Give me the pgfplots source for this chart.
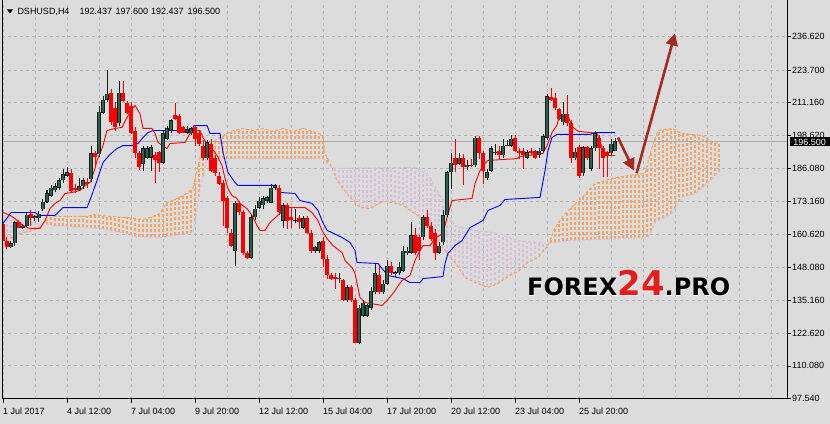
\documentclass[border=0pt]{standalone}
\usepackage{pgfplots}
\usepackage{pgfplotstable}
\pgfplotsset{compat=1.18}
\usetikzlibrary{arrows.meta}
\usepackage{fontspec}
\setmainfont{Liberation Sans}
\newfontfamily\wmfont{DejaVu Sans}
\newfontfamily\wmhalo{DejaVu Sans}[BoldFeatures={FakeBold=2.5}]

\definecolor{bg}{HTML}{DCDCDC}
\definecolor{gridc}{HTML}{B4B4B4}
\definecolor{upbody}{HTML}{2F5F4F}
\definecolor{upwick}{HTML}{10201A}
\definecolor{dnred}{HTML}{FF0000}
\definecolor{sandy}{HTML}{F4A460}
\definecolor{thist}{HTML}{D8BFD8}
\definecolor{arrowc}{HTML}{A52A22}
\definecolor{bidc}{HTML}{A8A8A8}
\definecolor{wmred}{HTML}{E41E1E}

% H4 candles closing higher: bar, open, high, low, close
\pgfplotstableread{
i o h l c
2 155.6 157.9 155.2 157.1
3 157.1 165.9 156.3 165.2
5 163.2 164.4 162.5 164.0
6 164.0 169.0 163.6 168.2
8 166.7 167.9 165.9 167.5
9 166.7 169.4 165.5 168.6
10 170.2 174.0 169.4 173.2
11 173.2 177.5 172.5 176.3
12 175.5 179.4 174.8 178.6
13 177.5 180.5 176.7 179.0
14 178.6 182.1 177.8 181.3
15 181.3 185.9 180.5 183.6
16 183.2 186.3 182.5 184.4
19 177.5 182.1 177.1 179.0
20 179.0 182.1 178.2 181.3
22 181.7 194.7 180.9 191.7
24 191.3 210.1 190.5 207.8
25 207.4 213.9 206.7 212.4
26 212.4 223.9 211.6 214.7
29 203.2 219.7 202.4 215.1
35 187.8 194.7 185.1 193.6
36 190.1 194.4 189.7 193.6
37 190.1 195.1 185.1 194.0
40 188.2 200.5 187.8 199.4
41 197.4 202.4 196.7 201.3
42 200.5 205.1 199.7 204.4
46 199.7 202.4 199.0 200.9
47 199.4 201.7 198.6 201.3
51 189.8 196.7 189.0 195.9
58 154.4 173.6 148.6 172.8
62 151.7 167.9 151.0 167.1
63 167.1 171.7 166.3 170.5
64 170.9 174.8 170.2 173.6
65 171.7 175.5 170.5 174.4
66 173.6 175.5 172.8 174.8
67 172.8 180.1 172.5 178.6
68 178.6 180.1 177.5 179.4
70 165.9 172.8 163.2 171.7
73 165.9 170.5 164.8 166.3
75 163.2 167.5 162.5 166.7
78 154.4 156.3 153.3 155.6
79 154.4 158.2 153.6 157.5
84 143.3 145.6 142.1 144.0
86 135.2 141.0 134.8 140.2
89 119.0 133.3 118.3 132.5
90 129.4 135.2 128.7 134.4
91 129.4 134.0 128.7 133.3
92 132.5 140.2 131.7 139.0
93 138.3 149.4 137.5 145.6
95 138.3 142.9 137.5 141.7
96 141.7 150.6 141.0 148.6
98 145.2 146.7 144.4 146.0
99 145.6 149.8 144.8 147.9
100 146.7 156.3 146.0 154.4
101 153.3 155.6 152.5 154.4
102 153.6 165.2 152.9 160.2
105 159.4 168.2 158.6 167.1
109 153.6 157.5 152.9 156.3
110 157.5 169.8 156.7 167.9
111 167.9 185.1 167.1 184.4
112 184.4 191.7 178.2 188.2
114 187.8 191.7 187.1 190.1
116 186.3 189.0 185.5 187.4
118 187.1 198.2 186.3 197.8
121 182.1 185.9 181.3 184.4
122 185.1 194.7 184.4 193.6
123 191.7 195.5 190.9 192.4
125 190.9 197.4 190.1 194.7
126 194.7 196.7 194.4 195.1
127 194.7 198.6 194.0 197.4
131 190.1 193.2 189.7 192.1
134 190.9 193.6 190.1 192.8
135 192.8 199.0 192.1 198.2
136 197.8 214.7 196.7 213.6
140 203.6 211.3 202.8 207.0
143 189.8 193.6 189.0 192.4
145 184.0 194.7 183.2 194.0
147 185.9 194.4 185.1 193.6
148 193.6 200.5 192.8 199.4
152 191.7 197.4 190.9 195.5
153 192.437 197.6 192.437 196.5
}\upc

% H4 candles closing lower
\pgfplotstableread{
i o h l c
0 164.4 165.5 155.9 157.9
1 158.2 159.4 154.8 155.6
4 165.5 166.3 162.9 163.2
7 168.6 169.8 164.0 166.7
17 184.0 185.9 176.7 177.1
18 178.6 179.8 176.3 177.5
21 180.9 182.1 178.6 180.1
23 191.7 192.8 186.7 190.5
27 215.1 216.6 202.8 203.6
28 209.3 211.3 200.5 201.7
30 215.1 219.7 211.6 212.0
31 210.9 212.0 207.0 207.4
32 210.1 211.3 199.0 199.7
33 200.5 201.7 190.1 191.7
34 191.7 192.8 185.5 186.3
38 190.9 192.1 180.5 189.0
39 192.1 192.8 184.4 188.2
43 206.3 210.9 204.4 205.1
44 205.9 207.0 199.0 199.7
45 201.7 202.4 199.4 199.7
48 201.7 202.8 194.7 197.4
49 199.4 200.5 194.7 195.5
50 194.7 196.7 189.0 189.8
52 195.5 197.4 184.4 185.1
53 190.1 190.9 183.2 184.0
54 183.2 184.4 179.4 180.1
55 180.5 181.3 164.0 173.6
56 174.4 175.5 161.3 163.2
57 161.3 162.5 155.6 156.3
59 172.8 173.6 168.2 169.0
60 169.0 169.8 152.5 153.6
61 153.6 154.4 151.0 151.7
69 178.6 179.4 168.2 169.0
71 171.7 172.5 162.5 165.9
72 167.1 170.9 162.9 166.3
74 166.7 167.9 162.5 165.2
76 166.7 167.5 160.9 161.3
77 161.3 162.1 153.6 154.4
80 158.2 159.4 147.9 151.3
81 151.3 152.5 143.6 144.8
82 144.8 145.6 142.9 143.6
83 144.4 145.6 139.8 143.6
85 142.9 143.6 134.9 135.2
87 140.2 141.0 134.8 135.2
88 135.2 136.0 118.7 119.0
94 144.8 148.6 137.5 138.3
97 148.6 149.8 144.8 145.6
103 160.2 162.9 152.5 153.6
104 159.4 160.5 150.6 154.4
106 167.1 169.8 163.2 164.0
107 164.0 165.2 158.2 159.0
108 161.3 162.5 150.6 153.6
113 190.1 197.4 184.4 187.1
115 190.1 191.3 179.4 186.3
117 187.4 189.7 186.3 187.0
119 197.8 198.2 189.7 191.7
120 191.7 192.8 180.1 185.1
124 192.8 194.7 189.7 190.9
128 197.8 198.6 192.1 192.8
129 192.8 193.6 189.7 191.7
130 192.8 193.6 185.9 190.9
132 192.8 193.6 190.9 191.7
133 192.8 193.2 189.7 190.1
137 213.2 217.0 212.0 212.4
138 212.8 215.1 208.2 209.0
139 208.6 209.3 204.4 205.1
141 207.0 214.0 202.4 203.2
142 203.2 204.4 188.2 189.8
144 194.0 195.1 182.1 183.2
146 194.0 194.7 189.0 190.1
149 197.8 198.6 185.9 193.6
150 193.6 194.4 182.5 189.8
151 192.1 192.8 182.5 190.9
}\dnc

% cloud hatch where span A is above span B: bar, low, high
\pgfplotstableread{
i lo hi
11 164.3 166.3
12 164.2 167.1
13 164.0 167.5
14 163.9 167.5
15 163.7 167.5
16 163.6 167.5
17 163.5 167.5
18 163.4 167.5
19 163.3 167.5
20 163.3 167.5
21 163.2 167.5
22 163.1 168.0
23 163.0 168.1
24 162.9 168.0
25 162.7 167.8
26 162.4 167.6
27 162.1 167.5
28 161.8 167.4
29 161.5 167.3
30 161.2 167.2
31 160.9 167.1
32 160.2 166.9
33 159.8 166.7
34 159.7 166.5
35 159.7 166.3
36 159.6 166.8
37 159.5 167.3
38 159.5 167.9
39 159.4 168.5
40 159.6 170.4
41 159.8 172.8
42 160.0 173.4
43 160.2 174.1
44 160.4 174.8
45 160.7 175.5
46 160.9 176.3
47 161.2 177.8
48 165.6 181.9
49 174.9 188.4
50 183.2 192.8
51 189.7 194.9
52 189.7 196.0
53 189.7 196.7
54 189.7 197.7
55 189.7 198.6
56 189.7 199.4
57 189.7 200.1
58 189.7 200.7
59 189.7 201.0
60 189.7 201.3
61 189.7 201.0
62 189.7 200.7
63 189.7 200.7
64 189.7 201.0
65 189.7 201.3
66 189.7 200.8
67 189.7 200.3
68 189.7 200.3
69 189.7 200.8
70 189.7 201.3
71 189.7 200.8
72 189.7 200.3
73 189.7 200.6
74 189.7 200.8
75 189.7 201.3
76 189.7 200.8
77 189.7 200.3
78 189.7 199.8
79 189.7 199.2
80 189.7 198.6
81 187.9 190.1
137 157.3 159.3
138 157.5 163.2
139 157.7 165.4
140 157.9 167.5
141 158.2 169.3
142 158.3 170.8
143 158.3 172.3
144 158.4 173.7
145 158.4 175.2
146 158.5 176.8
147 158.6 178.5
148 158.6 180.1
149 158.7 180.6
150 158.8 181.0
151 158.8 181.5
152 158.9 182.0
153 158.9 182.3
154 159.0 182.6
155 159.1 182.9
156 159.1 183.1
157 159.2 183.3
158 159.2 183.5
159 159.3 183.7
160 159.3 183.9
161 159.4 186.9
162 161.9 192.6
163 165.2 197.2
164 166.0 200.6
165 166.8 200.8
166 167.6 201.0
167 168.4 201.2
168 170.5 200.8
169 173.0 200.0
170 174.9 199.4
171 175.4 199.2
172 175.8 199.0
173 176.3 198.9
174 177.6 198.7
175 178.9 198.4
176 180.2 197.3
177 181.6 196.2
178 183.1 195.7
179 184.6 195.5
}\cloudup

% cloud hatch where span B is above span A
\pgfplotstableread{
i lo hi
0 156.3 167.1
1 157.8 166.9
2 159.2 166.8
3 159.9 165.8
4 160.6 164.8
5 161.3 164.8
6 161.6 164.8
7 161.9 164.8
8 162.4 164.7
9 163.0 164.6
83 183.2 186.0
84 180.3 186.0
85 178.3 186.0
86 176.3 186.1
87 174.4 186.1
88 172.9 186.1
89 171.3 186.1
90 170.8 186.1
91 170.6 186.1
92 170.7 186.1
93 171.5 186.1
94 172.4 186.2
95 173.2 186.2
96 173.0 186.2
97 172.9 186.2
98 172.6 186.2
99 172.2 186.2
100 171.7 186.2
101 170.6 186.3
102 169.5 186.3
103 168.6 186.3
104 167.4 185.7
105 165.5 184.5
106 163.7 183.4
107 161.7 181.8
108 159.7 179.0
109 157.7 176.2
110 155.5 173.9
111 153.4 170.5
112 151.5 166.5
113 149.8 164.0
114 147.5 163.6
115 145.2 163.2
116 143.6 162.9
117 142.8 162.5
118 142.1 162.1
119 141.5 161.9
120 140.9 161.8
121 140.4 161.6
122 140.6 161.5
123 141.2 161.3
124 142.0 160.8
125 143.0 160.2
126 144.1 159.7
127 145.0 159.1
128 145.7 158.6
129 146.6 158.2
130 148.0 158.0
131 149.4 157.8
132 150.4 157.7
133 151.1 157.5
134 152.2 157.4
135 154.0 157.3
136 155.8 157.1
}\clouddn

\begin{document}
\begin{tikzpicture}
\fill[bg] (0,0) rectangle (830pt,423pt);

\begin{axis}[
  at={(2pt,25pt)}, anchor=south west,
  scale only axis, width=785pt, height=396pt,
  xmin=-0.25, xmax=196, ymin=97.54, ymax=249.68,
  axis background/.style={fill=bg},
  axis line style={draw=none},
  xtick pos=left, ytick pos=right,
  yticklabel pos=right,
  tick align=outside,
  major tick length=4pt, minor tick length=0pt,
  tick style={black, line width=0.7pt},
  xtick={0,16,...,144},
  xticklabels={1 Jul 2017,4 Jul 12:00,7 Jul 04:00,9 Jul 20:00,12 Jul 12:00,15 Jul 04:00,17 Jul 20:00,20 Jul 12:00,23 Jul 04:00,25 Jul 20:00},
  minor xtick={8,24,40,56,72,88,104,120,136,152,160,168,176,184,192},
  ytick={97.54,110.08,122.62,135.16,148.08,160.62,173.16,186.08,198.62,211.16,223.70,236.62},
  yticklabels={97.540,110.080,122.620,135.160,148.080,160.620,173.160,186.080,198.620,211.160,223.700,236.620},
  xmajorgrids, xminorgrids, ymajorgrids,
  grid style={gridc, dash pattern=on 3pt off 3pt, line width=0.8pt},
  ticklabel style={font=\fontsize{9}{10}\selectfont, inner sep=0pt},
  xticklabel style={anchor=north west, yshift=-5pt},
  yticklabel style={anchor=west, xshift=1pt},
  errbar/.style={draw=none, no markers, forget plot,
    error bars/y dir=plus, error bars/y explicit, error bars/error mark=none},
]

% cloud hatching (dashed vertical strokes at every bar)
\addplot[errbar, error bars/error bar style={line width=1.1pt, draw=sandy, dash pattern=on 3pt off 2pt}]
  table[x=i, y=lo, y error plus expr=\thisrow{hi}-\thisrow{lo}] {\cloudup};
\addplot[errbar, error bars/error bar style={line width=1.1pt, draw=thist, dash pattern=on 3pt off 2pt}]
  table[x=i, y=lo, y error plus expr=\thisrow{hi}-\thisrow{lo}] {\clouddn};

% Senkou span A and B
\addplot[sandy, line width=1pt, dash pattern=on 3pt off 2pt] coordinates {
(0,156.3)(1.75,159.0)(5,161.3)(7.5,162.1)(9.25,163.2)(11,166.3)(12.5,167.5)(21,167.5)(22.5,168.2)(26.75,167.5)(31,167.1)(35,166.3)(36.75,167.1)(39.25,168.6)(41,172.8)(43.5,174.4)(46,176.3)(47.5,178.6)(48.5,185.1)(49.25,190.1)(50,192.8)(51.25,195.5)(53,196.7)(55,198.6)(57.5,200.5)(60,201.3)(62.5,200.5)(65,201.3)(67.5,200.1)(70,201.3)(72.5,200.1)(75,201.3)(76.75,200.5)(78.75,199.4)(80,198.6)(80.5,191.7)(81.75,187.8)(83.5,181.3)(86.75,174.8)(89.25,170.9)(91.75,170.5)(95,173.2)(97.5,172.8)(100,171.7)(102.5,169.0)(103.75,167.9)(106.25,163.2)(108.75,158.2)(111.25,152.9)(113,149.8)(115.5,144.0)(118,142.1)(121.25,140.2)(123.75,141.7)(126.25,144.4)(128.75,146.3)(131.25,149.8)(133.75,151.7)(136.25,156.3)(138,163.2)(140.5,168.6)(144.75,174.8)(148,180.1)(152.25,182.1)(156.25,183.2)(160.5,184.0)(162.25,194.0)(163.75,200.5)(167.25,201.3)(169.75,199.4)(174.75,198.6)(177.25,195.9)(179.25,195.5)
};
\addplot[thist, line width=1pt, dash pattern=on 3pt off 2pt] coordinates {
(0,167.1)(2.5,166.7)(3.5,164.8)(7.5,164.8)(16,163.6)(24.25,162.9)(31,160.9)(32.5,159.8)(39.25,159.4)(46,160.9)(47.5,161.3)(48.5,169.8)(49.25,177.5)(50,183.2)(51,189.7)(80,189.7)(82.25,185.9)(103.5,186.3)(106.75,182.5)(109.25,175.5)(110.5,172.8)(111.75,167.1)(113,164.0)(118,162.1)(123,161.3)(128.75,158.2)(136.25,157.1)(141.25,158.2)(161.25,159.4)(163,165.2)(167.25,168.6)(169.75,174.8)(173,176.3)(176.25,180.5)(179.25,185.1)
};

% bid line
\addplot[bidc, line width=0.8pt] coordinates {(-0.25,196.5)(196,196.5)};

% Kijun-sen
\addplot[blue, line width=0.9pt] coordinates {
(0,164.8)(2,169.0)(8,169.0)(9,167.9)(13,167.9)(15,170.9)(21,170.9)(22,174.8)(23.5,181.3)(25,188.2)(26.75,191.3)(28.5,193.6)(30,194.7)(32.25,194.7)(33.75,195.5)(35,197.8)(36.25,199.7)(37.5,200.5)(47.25,200.5)(47.75,202.4)(51,202.4)(51.75,199.4)(54.25,199.4)(55,192.1)(56.25,184.4)(58,180.5)(58.75,179.4)(68,179.4)(69.25,176.7)(73,176.3)(74.25,173.6)(77.25,172.5)(78.75,169.8)(79.75,165.9)(81,162.1)(82.25,161.3)(84.75,159.4)(86.75,157.5)(88,154.4)(88.5,149.8)(93.75,149.4)(94.75,147.5)(96.25,144.8)(100,143.6)(101.75,142.1)(104.25,142.1)(105,143.6)(110,144.4)(110.5,149.4)(111.25,153.3)(113,156.3)(114.75,158.2)(116.75,163.2)(120,165.9)(121.25,169.8)(124.25,171.7)(125.5,174.0)(134.25,174.8)(135.5,185.1)(136.25,192.8)(137.25,197.8)(138.5,199.0)(146.75,199.0)(148,199.7)(153,199.7)
};
% Tenkan-sen
\addplot[red, line width=0.9pt] coordinates {
(0,169.0)(1.75,167.9)(3,166.7)(4.25,164.8)(6,163.2)(6.75,162.9)(9.25,162.9)(10.5,165.9)(11.75,170.5)(13,172.5)(14.25,173.6)(15.5,176.3)(17.25,176.7)(19.25,177.5)(20.5,179.4)(21.75,180.5)(23,185.9)(23.5,189.0)(24.25,191.7)(25,194.7)(26,200.5)(28,201.3)(29.75,201.7)(31,205.5)(32,208.2)(33,210.1)(34.25,207.0)(35,201.3)(37.25,201.3)(38,199.4)(38.75,195.9)(41,193.6)(41.75,195.5)(45.5,195.9)(46.75,199.4)(48,200.5)(49.25,200.5)(50,197.8)(51.25,194.7)(52.25,193.6)(53.5,190.9)(54.75,187.1)(55.5,182.1)(56.25,178.2)(57.25,175.5)(58.5,174.4)(59.25,172.5)(61,170.5)(62.25,167.9)(63.5,164.0)(64.25,162.1)(65.5,162.1)(66.75,165.2)(69.25,168.6)(70.5,170.9)(75.5,170.9)(77.25,169.0)(78.75,165.9)(79.75,162.1)(81,159.0)(82.5,156.3)(84.75,153.6)(85.5,150.6)(87.25,147.9)(88,145.6)(89.25,136.3)(90.5,134.4)(94.75,133.3)(96,135.2)(97.5,137.9)(98.5,140.2)(99.75,142.9)(101.75,144.8)(103,150.6)(104.25,154.4)(105,156.3)(106.75,156.3)(108,159.0)(110,161.0)(111,167.1)(112.25,173.6)(117.25,174.4)(118,180.1)(119.25,185.1)(120.5,187.8)(121.25,189.0)(128.5,189.7)(129.25,190.5)(135,191.7)(136,194.7)(137.25,199.7)(138.5,202.6)(139.25,206.7)(141,206.7)(142.5,201.7)(143.75,200.2)(147.5,199.6)(148.5,199.3)(149.75,194.0)(150.5,190.9)(153,190.9)
};

% candles: wicks and bodies as vertical error bars
\addplot[errbar, error bars/error bar style={line width=1pt, draw=upwick, solid}]
  table[x=i, y=l, y error plus expr=\thisrow{h}-\thisrow{l}] {\upc};
\addplot[errbar, error bars/error bar style={line width=3.6pt, draw=upwick, solid}]
  table[x=i, y=o, y error plus expr=\thisrow{c}-\thisrow{o}] {\upc};
\addplot[errbar, error bars/error bar style={line width=2pt, draw=upbody, solid}]
  table[x=i, y expr=\thisrow{o}+0.3, y error plus expr={max(\thisrow{c}-\thisrow{o}-0.6,0)}] {\upc};
\addplot[errbar, error bars/error bar style={line width=1pt, draw=dnred, solid}]
  table[x=i, y=l, y error plus expr=\thisrow{h}-\thisrow{l}] {\dnc};
\addplot[errbar, error bars/error bar style={line width=3.2pt, draw=dnred, solid}]
  table[x=i, y=c, y error plus expr=\thisrow{o}-\thisrow{c}] {\dnc};

% forecast arrows
\draw[arrowc, line width=2.6pt, -{Triangle[length=12pt,width=12pt]}] (axis cs:153.75,197.8) -- (axis cs:157.75,185.1);
\draw[arrowc, line width=2.6pt, -{Triangle[length=12pt,width=12pt]}] (axis cs:158.4,184.1) -- (axis cs:168,237.8);
\end{axis}

% chart frame: left, bottom, right
\draw[black, line width=1pt] (2pt,423pt) -- (2pt,25pt) -- (787pt,25pt) -- (787pt,423pt);

% price tag
\node[fill=black, text=white, inner sep=0pt, minimum width=40pt, minimum height=9pt,
  anchor=west, font=\fontsize{9}{10}\selectfont] at (789.5pt,281.5pt) {196.500};

% header
\fill[black] (7pt,414pt) -- (13pt,414pt) -- (10pt,410pt) -- cycle;
\begin{scope}[every node/.style={anchor=base west, inner sep=0pt, font=\fontsize{9}{10}\selectfont}]
\node at (17.3pt,409pt) {DSHUSD,H4};
\node at (79.3pt,409pt) {192.437};
\node at (115.3pt,409pt) {197.600};
\node at (151pt,409pt) {192.437};
\node at (187.3pt,409pt) {196.500};
\end{scope}

% watermark with a white outline
\node[anchor=base west, inner sep=0pt, text=white] at (527pt,128pt)
  {\wmhalo\bfseries\fontsize{24}{24}\selectfont FOREX{\fontsize{34}{34}\selectfont 24}.PRO};
\node[anchor=base west, inner sep=0pt, text=black] at (527pt,128pt)
  {\wmfont\bfseries\fontsize{24}{24}\selectfont FOREX{\color{wmred}\fontsize{34}{34}\selectfont 24}.PRO};
\end{tikzpicture}
\end{document}
